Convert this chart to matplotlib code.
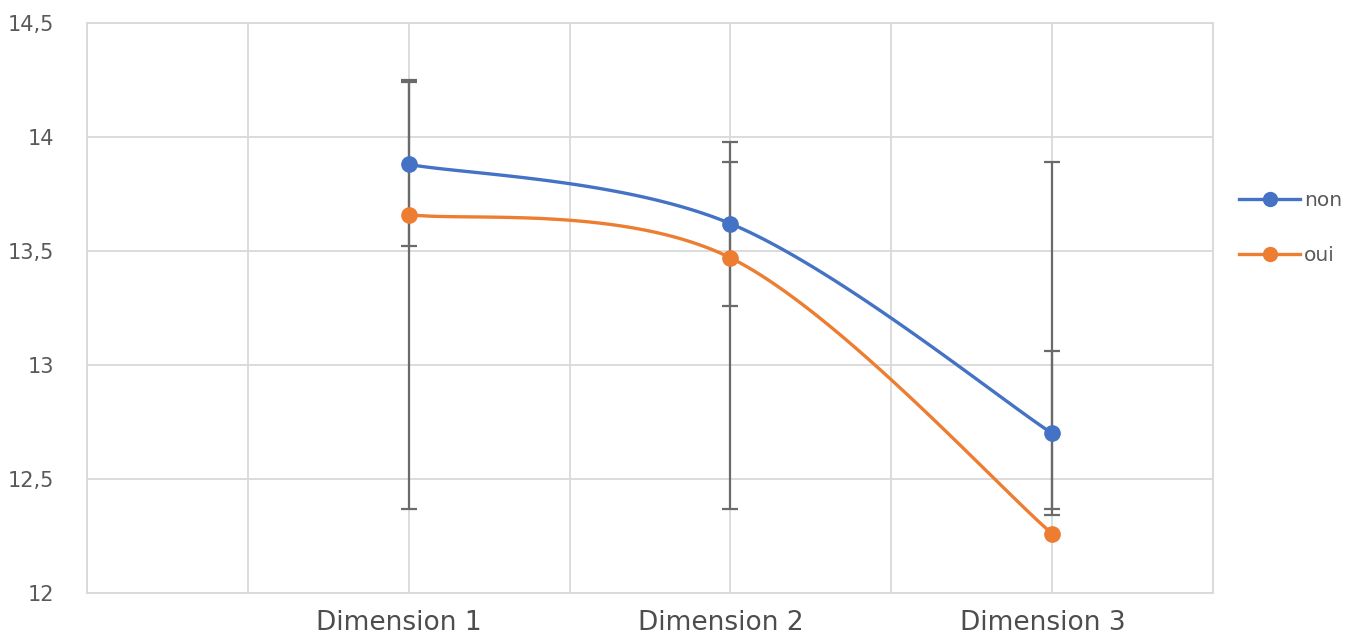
import numpy as np
import matplotlib.pyplot as plt
from matplotlib.ticker import FuncFormatter, MultipleLocator

categories = ['Dimension 1', 'Dimension 2', 'Dimension 3']
x_pos = [1, 2, 3]

non_values = [13.88, 13.62, 12.70]
non_err = [0.36, 0.36, 0.36]

oui_values = [13.66, 13.47, 12.26]
oui_bar_low = [12.37, 12.37, 12.37]
oui_bar_high = [14.25, 13.89, 13.89]

BLUE = '#4472C4'
ORANGE = '#ED7D31'
GRID = '#d9d9d9'
TEXT = '#595959'


def smooth(xs, ys, n=60):
    # Excel-like smoothed line (Catmull-Rom style bezier segments)
    xs = np.asarray(xs, float)
    ys = np.asarray(ys, float)
    px = np.concatenate([[xs[0]], xs, [xs[-1]]])
    py = np.concatenate([[ys[0]], ys, [ys[-1]]])
    t = np.linspace(0, 1, n)
    out_x, out_y = [], []
    for i in range(1, len(px) - 2):
        p0 = np.array([px[i], py[i]])
        p3 = np.array([px[i + 1], py[i + 1]])
        p1 = p0 + (np.array([px[i + 1], py[i + 1]]) - np.array([px[i - 1], py[i - 1]])) / 6
        p2 = p3 - (np.array([px[i + 2], py[i + 2]]) - np.array([px[i], py[i]])) / 6
        b = ((1 - t) ** 3)[:, None] * p0 + (3 * (1 - t) ** 2 * t)[:, None] * p1 \
            + (3 * (1 - t) * t ** 2)[:, None] * p2 + (t ** 3)[:, None] * p3
        out_x.extend(b[:, 0])
        out_y.extend(b[:, 1])
    return out_x, out_y


fig = plt.figure(figsize=(13.54, 6.42), dpi=100)
ax = fig.add_axes([0.0643, 0.0763, 0.8316, 0.8879])

# error bars
ax.errorbar(x_pos, non_values, yerr=non_err, fmt='none', ecolor='#6a6a6a',
            elinewidth=1.6, capsize=5.5, capthick=1.6, zorder=3)
oui_mid = [(lo + hi) / 2 for lo, hi in zip(oui_bar_low, oui_bar_high)]
oui_half = [(hi - lo) / 2 for lo, hi in zip(oui_bar_low, oui_bar_high)]
ax.errorbar(x_pos, oui_mid, yerr=oui_half, fmt='none', ecolor='#6a6a6a',
            elinewidth=1.6, capsize=5.5, capthick=1.6, zorder=3)

# smoothed lines
sx, sy = smooth(x_pos, non_values)
ax.plot(sx, sy, color=BLUE, lw=2.4, zorder=2, solid_capstyle='round')
sx, sy = smooth(x_pos, oui_values)
ax.plot(sx, sy, color=ORANGE, lw=2.4, zorder=2, solid_capstyle='round')
ax.plot(x_pos, non_values, 'o', color=BLUE, ms=11, zorder=4)
ax.plot(x_pos, oui_values, 'o', color=ORANGE, ms=11, zorder=4)

# legend handles
ax.plot([], [], '-o', color=BLUE, lw=2.4, ms=10, label='non')
ax.plot([], [], '-o', color=ORANGE, lw=2.4, ms=10, label='oui')
handles, labels = ax.get_legend_handles_labels()
leg = fig.legend(handles, labels, loc='upper left', bbox_to_anchor=(0.902, 0.73),
                 frameon=False, fontsize=14.5, handlelength=3.0, handletextpad=0.2,
                 labelspacing=1.75, labelcolor=TEXT)

ax.set_xlim(0, 3.5)
ax.set_ylim(12, 14.5)
ax.xaxis.set_major_locator(MultipleLocator(0.5))
ax.yaxis.set_major_locator(MultipleLocator(0.5))
ax.grid(True, color=GRID, lw=1.3, zorder=0)
ax.set_axisbelow(True)
for s in ax.spines.values():
    s.set_color(GRID)
    s.set_linewidth(1.3)

ax.tick_params(axis='both', length=0)
ax.set_xticklabels([])
ax.yaxis.set_major_formatter(FuncFormatter(lambda v, p: f'{v:g}'.replace('.', ',')))
for lbl in ax.get_yticklabels():
    lbl.set_fontsize(15)
    lbl.set_color(TEXT)
ax.tick_params(axis='y', pad=24)

for xp, cat in zip(x_pos, categories):
    ax.text(xp - 0.03, 11.868, cat, ha='center', va='center', fontsize=19,
            color='#4d4d4d', family='DejaVu Sans')

plt.savefig('out.png', dpi=100)
